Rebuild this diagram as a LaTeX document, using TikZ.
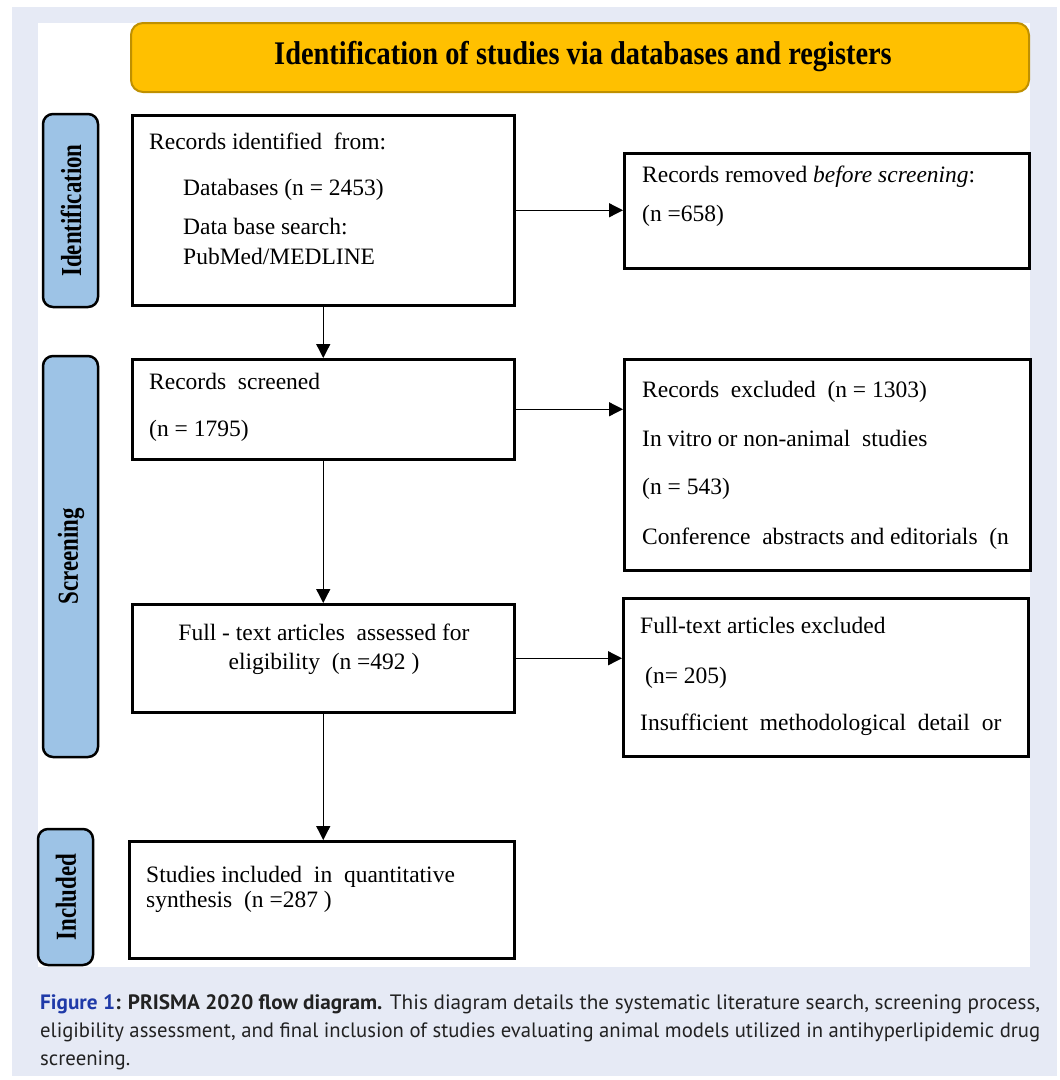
\documentclass[tikz,border=0pt]{standalone}
\usepackage{fontspec}
\setmainfont{Liberation Serif}
\newfontfamily\capfont{PT Sans}
\usetikzlibrary{arrows.meta}
\definecolor{bgblue}{HTML}{E6EAF5}
\definecolor{gold}{HTML}{FFC000}
\definecolor{golddark}{HTML}{BF9000}
\definecolor{sideblue}{HTML}{9DC3E6}
\definecolor{figblue}{HTML}{1F3AA8}
\definecolor{captext}{HTML}{222222}
\tikzset{
  box/.style={draw=black, line width=2.5pt, fill=white, inner sep=0pt, anchor=north west},
  sidebox/.style={draw=black, line width=2.5pt, fill=sideblue, rounded corners=10pt},
  sidelabel/.style={rotate=90, inner sep=0pt, font=\fontsize{29}{32}\selectfont\bfseries},
  txt/.style={inner sep=0pt, anchor=base west, font=\fontsize{23.5}{27}\selectfont},
  ctxt/.style={inner sep=0pt, anchor=base, font=\fontsize{23.5}{27}\selectfont},
  arr/.style={line width=1.3pt, -{Triangle[length=14pt,width=14pt]}},
  capline/.style={inner sep=0pt, anchor=base west, text=captext, font=\capfont\fontsize{20.8}{25}\selectfont}
}
\begin{document}
\begin{tikzpicture}[x=1pt,y=-1pt]
\useasboundingbox (0,0) rectangle (1060,1080);
\fill[white] (0,0) rectangle (1060,1080);
\fill[bgblue] (12,7) rectangle (1057,1076);
\fill[white] (38,23) rectangle (1030,967);
% header
\draw[fill=gold, draw=golddark, line width=2pt, rounded corners=12pt] (131,23) rectangle (1029,92);
\node[inner sep=0pt] (head) at (583,57) {\scalebox{0.86}[1]{\fontsize{33}{38}\selectfont\bfseries Identification of studies via databases and registers}};
% side boxes
\draw[sidebox] (43,114) rectangle (98,307);
\node[sidelabel] (lid) at (71,210.5) {\scalebox{0.79}[1]{Identification}};
\draw[sidebox] (43,356) rectangle (98,757);
\node[sidelabel] (lsc) at (71,556.5) {\scalebox{0.79}[1]{Screening}};
\draw[sidebox] (38,829) rectangle (93,965);
\node[sidelabel] (lin) at (66,897) {\scalebox{0.79}[1]{Included}};
% boxes
\node[box, minimum width=382pt, minimum height=190pt] (rid) at (131,114) {};
\node[box, minimum width=405pt, minimum height=115pt] (rem) at (623,152) {};
\node[box, minimum width=382pt, minimum height=100pt] (rs) at (131,358) {};
\node[box, minimum width=406pt, minimum height=211pt] (rex) at (623,358) {};
\node[box, minimum width=382pt, minimum height=108pt] (ft) at (131,603) {};
\node[box, minimum width=405pt, minimum height=158pt] (ftex) at (622,597) {};
\node[box, minimum width=385pt, minimum height=117pt] (st) at (128,840) {};
% texts
\node[txt] (t1) at (149,149) {Records identified\ \ from:};
\node[txt] (t2) at (183,195) {Databases (n = 2453)};
\node[txt] (t3) at (183,234) {Data base search:};
\node[txt] (t4) at (183,264) {PubMed/MEDLINE};
\node[txt] (t5) at (642,182) {Records removed \textit{before screening}:};
\node[txt] (t6) at (642,221) {(n =658)};
\node[txt] (t7) at (149,389) {Records\ \ screened};
\node[txt] (t8) at (149,436) {(n = 1795)};
\node[txt] (t9) at (642,397) {Records\ \ excluded\ \ (n = 1303)};
\node[txt] (t10) at (642,446) {In vitro or non-animal\ \ studies};
\node[txt] (t11) at (642,494) {(n = 543)};
\node[txt] (t12) at (642,544) {Conference\ \ abstracts and editorials\ \ (n};
\node[ctxt] (t13) at (324,640) {Full - text articles\ \ assessed for};
\node[ctxt] (t14) at (324,669) {eligibility\ \ (n =492 )};
\node[txt] (t15) at (640,633) {Full-text articles excluded};
\node[txt] (t16) at (645,683) {(n= 205)};
\node[txt] (t17) at (640,730) {Insufficient\ \ methodological\ \ detail\ \ or};
\node[txt] (t18) at (146,882) {Studies included\ \ in\ \ quantitative};
\node[txt] (t19) at (146,907) {synthesis\ \ (n =287 )};
% connectors
\draw[arr] (rid.east) -- (rid.east -| rem.west);
\draw[arr] (rs.east) -- (rs.east -| rex.west);
\draw[arr] (ft.east) -- (ft.east -| ftex.west);
\draw[arr] (rid.south) -- (rs.north);
\draw[arr] (rs.south) -- (ft.north);
\draw[arr] (ft.south) -- (ft.south |- st.north);
% caption
\node[capline] (c1) at (40,1009) {\resizebox{1000pt}{\height}{{\color{figblue}\bfseries Figure 1}\textbf{: PRISMA 2020 flow diagram.} This diagram details the systematic literature search, screening process,}};
\node[capline] (c2) at (40,1037) {\resizebox{1000pt}{\height}{eligibility assessment, and final inclusion of studies evaluating animal models utilized in antihyperlipidemic drug}};
\node[capline] (c3) at (40,1065) {screening.};
\end{tikzpicture}
\end{document}
